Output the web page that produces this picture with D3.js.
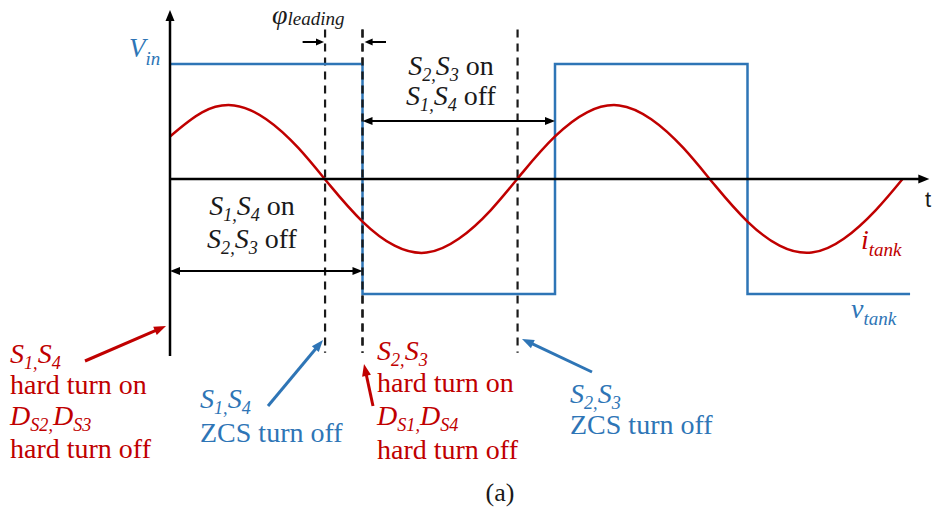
<!DOCTYPE html>
<html>
<head>
<meta charset="utf-8">
<script src="https://cdn.jsdelivr.net/npm/d3@7"></script>
<style>
  html, body { margin: 0; padding: 0; background: #ffffff; }
  svg { display: block; }
</style>
</head>
<body>
<svg id="chart" width="932" height="512"></svg>
<script>
// Electrical angle (degrees) where the square-wave tank voltage switches level
const vtankEdges = [0, 180, 360, 540, 692];
// Tank voltage level on each interval (normalised to Vin)
const vtankLevels = [1, -1, 1, -1];
// Tank current samples: angle (deg) and value (same normalised units)
const itankAngles = [0, 30, 60, 90, 120, 150, 180, 210, 240, 270, 300, 330,
                     360, 390, 420, 450, 480, 510, 540, 570, 600, 630, 660, 685];
const itankValues = [0.37, 0.58, 0.64, 0.52, 0.27, -0.06, -0.37, -0.58, -0.64, -0.52, -0.27, 0.06,
                     0.37, 0.58, 0.64, 0.52, 0.27, -0.06, -0.37, -0.58, -0.64, -0.52, -0.27, 0.0];
// Switching instants marked with dashed guides (current zero crossings and voltage edge)
const dashedAngles = [145, 180, 325];

const BLUE = "#2E75B6", RED = "#C00000", INK = "#1a1a1a";
const SERIF = "Liberation Serif";

const svg = d3.select("#chart");
const x = d3.scaleLinear().domain([0, 720]).range([170, 940]);
const y = d3.scaleLinear().domain([-1, 1]).range([294, 64]);

// simple arrow: line with a filled triangular head at (x2,y2); optional head at start
function arrow(x1, y1, x2, y2, color, width, headLen, headW, both) {
  const ang = Math.atan2(y2 - y1, x2 - x1);
  const head = (tx, ty, a) => {
    const bx = tx - headLen * Math.cos(a), by = ty - headLen * Math.sin(a);
    const px = -Math.sin(a) * headW / 2, py = Math.cos(a) * headW / 2;
    svg.append("path")
      .attr("d", `M${tx},${ty}L${bx + px},${by + py}L${bx - px},${by - py}Z`)
      .attr("fill", color);
  };
  const sx = both ? x1 + (headLen - 1) * Math.cos(ang) : x1;
  const sy = both ? y1 + (headLen - 1) * Math.sin(ang) : y1;
  svg.append("line")
    .attr("x1", sx).attr("y1", sy)
    .attr("x2", x2 - (headLen - 1) * Math.cos(ang)).attr("y2", y2 - (headLen - 1) * Math.sin(ang))
    .attr("stroke", color).attr("stroke-width", width);
  head(x2, y2, ang);
  if (both) head(x1, y1, ang + Math.PI);
}

// rich text: *italic*, _{subscript}
function richText(px, py, markup, o) {
  const fs = o.size || 28;
  const subScale = o.subScale || 0.65;
  const shift = o.subShift != null ? o.subShift : 0.22 * fs;
  const t = svg.append("text")
    .attr("x", px).attr("y", py)
    .attr("fill", o.color || INK)
    .style("font-family", SERIF)
    .style("font-size", fs + "px")
    .style("white-space", "pre")
    .attr("text-anchor", o.anchor || "start");
  const re = /_\{([^}]*)\}|\*([^*]*)\*|([^_*]+)/g;
  let m, down = false;
  while ((m = re.exec(markup))) {
    const sp = t.append("tspan").style("font-family", SERIF);
    if (m[1] !== undefined) {
      sp.text(m[1]).style("font-style", "italic").style("font-size", (fs * subScale) + "px");
      if (!down) sp.attr("dy", shift);
      down = true;
    } else {
      const italic = m[2] !== undefined;
      sp.text(italic ? m[2] : m[3]).style("font-style", italic ? "italic" : "normal");
      if (down) { sp.attr("dy", -shift); down = false; }
    }
  }
  return t;
}

function dashed(a) {
  svg.append("line")
    .attr("x1", x(a)).attr("x2", x(a))
    .attr("y1", y(1.3)).attr("y2", y(-1.51))
    .attr("stroke", INK).attr("stroke-width", 2.2)
    .attr("stroke-dasharray", "8,6");
}

// dashed switching guides
dashedAngles.forEach(dashed);

// square-wave tank voltage
const vPts = [];
vtankLevels.forEach((lv, i) => {
  vPts.push([vtankEdges[i], lv], [vtankEdges[i + 1], lv]);
});
svg.append("path")
  .attr("d", d3.line().x(d => x(d[0])).y(d => y(d[1]))(vPts))
  .attr("fill", "none").attr("stroke", BLUE).attr("stroke-width", 2.5);

// redraw the dashed guide over the voltage edge it coincides with
dashed(180);

// tank current
svg.append("path")
  .datum(itankAngles.map((a, i) => [a, itankValues[i]]))
  .attr("d", d3.line().x(d => x(d[0])).y(d => y(d[1])).curve(d3.curveNatural))
  .attr("fill", "none").attr("stroke", RED).attr("stroke-width", 2.5);

// axes
arrow(x(0), y(-1.54), x(0), y(1.47), "#000", 2.5, 11, 9, false);
arrow(x(0), y(0), x(710), y(0), "#000", 2.5, 11, 9, false);
svg.append("text").attr("x", 925).attr("y", 207)
  .attr("fill", INK)
  .style("font-size", "22px")
  .style("font-family", "Liberation Sans").text("t");

// leading-angle markers
arrow(x(124), 42, x(144), 42, "#000", 2, 8, 7, false);
arrow(x(202), 42, x(182), 42, "#000", 2, 8, 7, false);
richText(272, 24, "*φ*_{leading}", { size: 28, subScale: 0.68, subShift: 1, color: INK });

// interval arrows
arrow(x(0), 271, x(180), 271, "#000", 2, 10, 8, true);
arrow(x(180), 121, x(360), 121, "#000", 2, 10, 8, true);

// axis / trace labels
richText(129, 57, "*V*_{in}", { size: 27, subScale: 0.7, subShift: 8, color: BLUE });
richText(861, 249, "*i*_{tank}", { size: 28, subScale: 0.68, subShift: 7, color: RED });
richText(851, 318, "*v*_{tank}", { size: 28, subScale: 0.68, subShift: 7, color: BLUE });

// interval captions
richText(451, 75, "*S*_{2,}*S*_{3} on", { anchor: "middle" });
richText(451, 105, "*S*_{1,}*S*_{4} off", { anchor: "middle" });
richText(252, 215, "*S*_{1,}*S*_{4} on", { anchor: "middle" });
richText(252, 248, "*S*_{2,}*S*_{3} off", { anchor: "middle" });

// switching-event annotations
arrow(85, 361, 166, 326, RED, 3, 12, 9, false);
richText(10, 363, "*S*_{1,}*S*_{4}", { color: RED });
richText(10, 394, "hard turn on", { color: RED });
richText(10, 425, "*D*_{S2,}*D*_{S3}", { color: RED });
richText(10, 458, "hard turn off", { color: RED });

arrow(268, 406, 323, 340, BLUE, 3, 12, 9, false);
richText(200, 408, "*S*_{1,}*S*_{4}", { color: BLUE });
richText(200, 442, "ZCS turn off", { color: BLUE });

arrow(373, 406, 364, 364, RED, 3, 12, 9, false);
richText(377, 360, "*S*_{2,}*S*_{3}", { color: RED });
richText(377, 392, "hard turn on", { color: RED });
richText(377, 425, "*D*_{S1,}*D*_{S4}", { color: RED });
richText(377, 459, "hard turn off", { color: RED });

arrow(592, 372, 522, 339, BLUE, 3, 12, 9, false);
richText(570, 403, "*S*_{2,}*S*_{3}", { color: BLUE });
richText(570, 434, "ZCS turn off", { color: BLUE });

// panel tag
richText(500, 501, "(a)", { size: 26, anchor: "middle" });
</script>
</body>
</html>
